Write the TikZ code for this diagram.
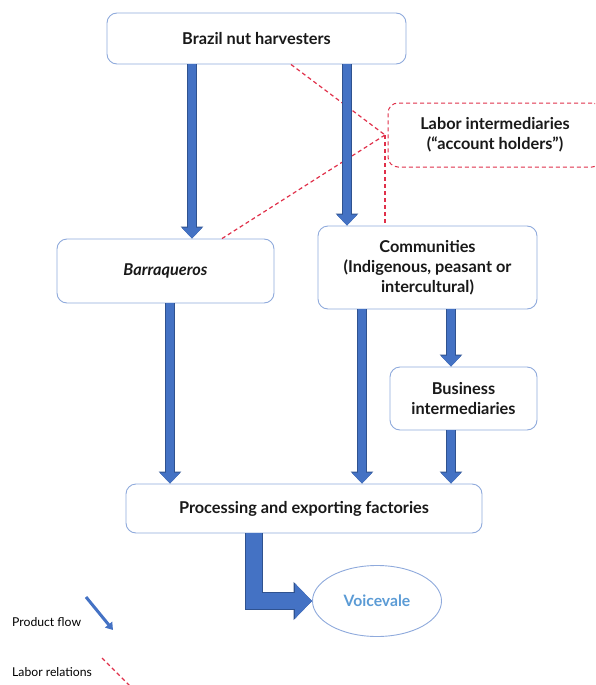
\documentclass[tikz,border=0pt]{standalone}
\usepackage{fontspec}
\setmainfont{Lato}
\usepackage{tikz}
\usetikzlibrary{arrows.meta, shapes.geometric}
\definecolor{flowblue}{HTML}{4472C4}
\definecolor{flowedge}{HTML}{2F528F}
\definecolor{boxline}{HTML}{8FAADC}
\definecolor{laborred}{HTML}{E0304A}
\definecolor{voiceblue}{HTML}{5B9BD5}
\tikzset{
  actor/.style={draw=boxline, line width=0.9pt, rounded corners=10pt, fill=white, align=center,
    font=\fontsize{16.3}{20}\selectfont\bfseries, text=black!90},
  laborbox/.style={actor, draw=laborred, dashed, dash pattern=on 4pt off 3pt, line width=1pt},
  flow/.style={line width=8pt, draw=flowblue,
    -{Triangle[width=20pt,length=11pt]},
    preaction={draw=flowedge, line width=10pt, -{Triangle[width=22pt,length=12pt]}}},
  bigflow/.style={line width=16pt, draw=flowblue, line join=miter,
    -{Triangle[width=34pt,length=17pt]},
    preaction={draw=flowedge, line width=18pt, line join=miter, -{Triangle[width=37pt,length=18.5pt]}}},
  labor/.style={draw=laborred, dashed, dash pattern=on 4pt off 3pt, line width=1.2pt},
  legend/.style={font=\fontsize{12.2}{14}\selectfont, anchor=west, inner sep=0pt}
}

\begin{document}
\begin{tikzpicture}[x=1pt, y=1pt]
		\clip (0,0) rectangle (595,-685);
		\node[actor, minimum width=299pt, minimum height=51pt] (harv) at (256.5,-38.5) {Brazil nut harvesters};
		\node[laborbox, minimum width=214pt, minimum height=64pt] (lab) at (495,-135) {Labor intermediaries\\(“account holders”)};
		\node[actor, minimum width=217pt, minimum height=64pt] (barr) at (165.5,-271) {\itshape Barraqueros};
		\node[actor, minimum width=219pt, minimum height=83pt] (comm) at (427.5,-267.5) {Communities\\(Indigenous, peasant or\\intercultural)};
		\node[actor, minimum width=147pt, minimum height=63pt] (bus) at (463.5,-398.5) {Business\\intermediaries};
		\node[actor, minimum width=356pt, minimum height=49pt] (proc) at (304,-508.5) {Processing and exporting factories};
		\node[ellipse, draw=boxline, line width=0.9pt, minimum width=129pt, minimum height=71pt, font=\fontsize{15.7}{18}\selectfont\bfseries, text=voiceblue] (voice) at (377,-601) {Voicevale};
		% labor relations
		\coordinate (lj) at ([xshift=-2.5pt]lab.west);
		\draw[labor] (harv.south -| 291,0) -- (lj);
		\draw[labor] (barr.north -| 222,0) -- (lj);
		\draw[labor] (lj) -- (comm.north -| lj);
		% product flow
		\draw[flow] (harv.south -| 192,0) -- (barr.north -| 192,0);
		\draw[flow] (harv.south -| 347,0) -- (comm.north -| 347,0);
		\draw[flow] (barr.south -| 170,0) -- (proc.north -| 170,0);
		\draw[flow] (comm.south -| 362,0) -- (proc.north -| 362,0);
		\draw[flow] (comm.south -| 451,0) -- (bus.north -| 451,0);
		\draw[flow] (bus.south -| 451,0) -- (proc.north -| 451,0);
		\draw[bigflow] (proc.south -| 254,0) |- (voice.west);
		% legend
		\node[legend] (lflow) at (12,-622) {Product flow};
		\coordinate (lf1) at (86,-597);
		\coordinate (lf2) at (113,-630);
		\draw[flowblue, line width=3pt, -{Triangle[width=9pt,length=7pt]}] (lf1) -- (lf2);
		\node[legend] (llab) at (12,-672) {Labor relations};
		\coordinate (ll1) at (102,-658);
		\coordinate (ll2) at (132,-688);
		\draw[labor] (ll1) -- (ll2);
	\end{tikzpicture}
\end{document}
